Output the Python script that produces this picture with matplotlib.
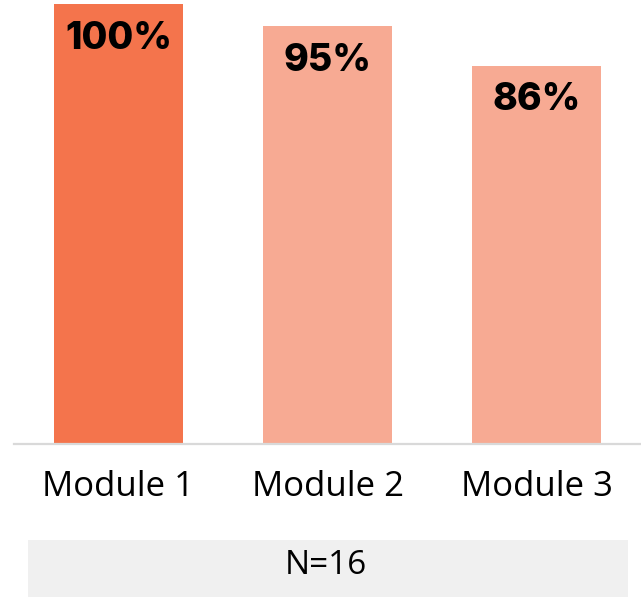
import matplotlib
matplotlib.use("Agg")
import matplotlib.pyplot as plt
from matplotlib.patches import Rectangle

categories = ["Module 1", "Module 2", "Module 3"]
values = [100, 95, 86]
value_labels = ["100%", "95%", "86%"]
bar_colors = ["#F4744C", "#F7AA93", "#F7AA93"]
note = "N=16"

W, H = 641, 599
fig = plt.figure(figsize=(W / 100, H / 100), dpi=100)
ax = fig.add_axes([14 / W, (H - 444) / H, (W - 14) / W, 440 / H])

x = range(len(categories))
bars = ax.bar(x, values, width=0.617, color=bar_colors, zorder=2)
ax.set_xlim(-0.5, 2.5)
ax.set_ylim(0, 100)

for rect, lab in zip(bars, value_labels):
    ax.annotate(lab, (rect.get_x() + rect.get_width() / 2, rect.get_height()),
                xytext=(0, -25), textcoords="offset points",
                ha="center", va="center", fontsize=27, fontweight="heavy",
                family="Inter", color="black")

for s in ["top", "right", "left"]:
    ax.spines[s].set_visible(False)
ax.spines["bottom"].set_color("#d9d9d9")
ax.spines["bottom"].set_linewidth(1.6)
ax.set_yticks([])
ax.set_xticks(list(x))
ax.set_xticklabels(categories, fontsize=25, family="Open Sans", color="black")
ax.tick_params(axis="x", length=0, pad=19)

# footnote box
fig.patches.append(Rectangle((28 / W, 2 / H), 600 / W, 57 / H,
                             transform=fig.transFigure, facecolor="#f0f0f0",
                             edgecolor="none"))
fig.text(326 / W, (H - 565) / H, note, ha="center", va="center",
         fontsize=24, family="Open Sans", color="black")

fig.savefig("out.png", dpi=100)
